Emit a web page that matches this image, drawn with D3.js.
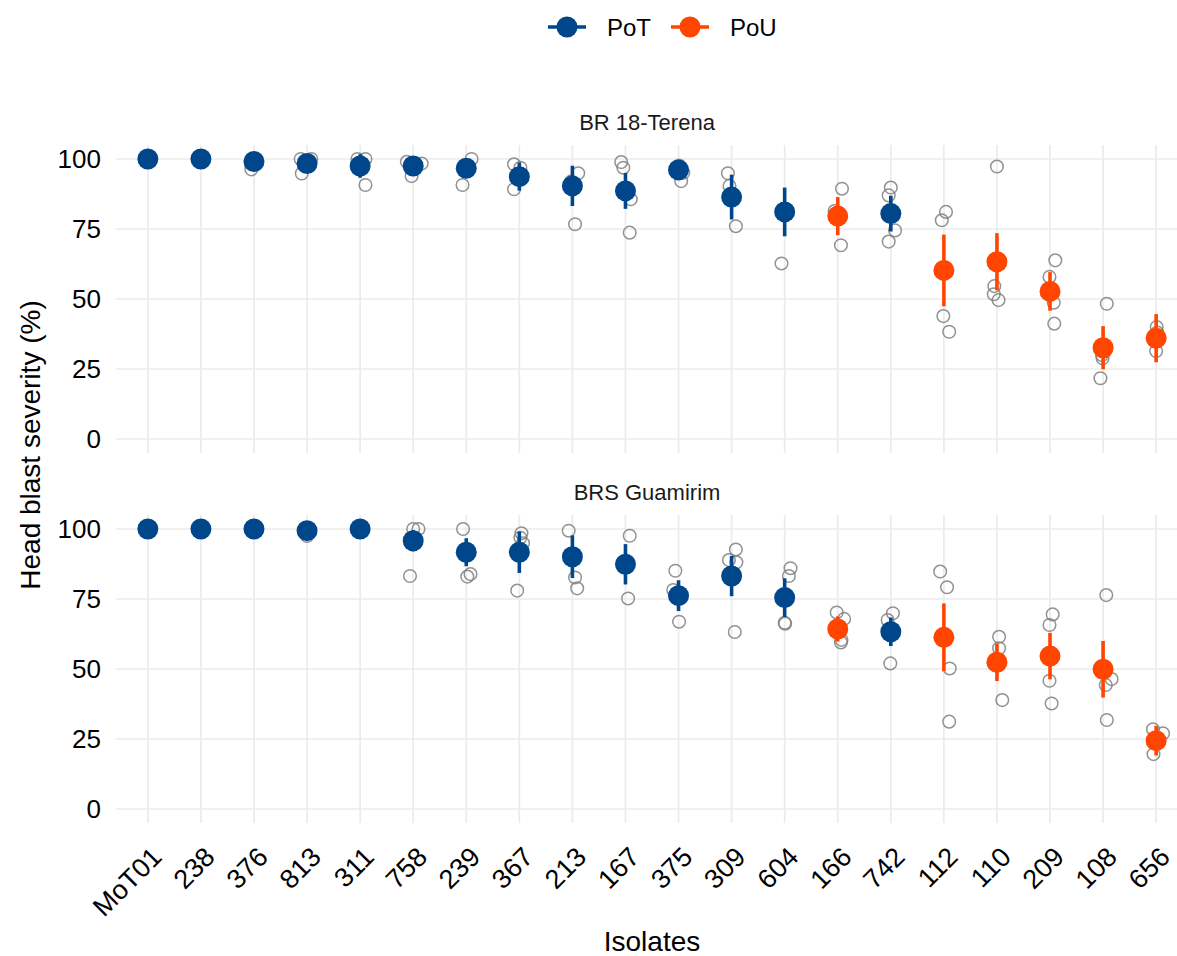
<!DOCTYPE html>
<html>
<head>
<meta charset="utf-8">
<script src="https://cdn.jsdelivr.net/npm/d3@7"></script>
<style>
  html, body { margin: 0; padding: 0; background: #fff; }
  svg { display: block; font-family: "Liberation Sans", Arial, Helvetica, sans-serif; }
</style>
</head>
<body>
<svg id="chart" width="1177" height="956"></svg>
<script>
// Isolates on the x axis, in plotted order
const isolates = ["MoT01","238","376","813","311","758","239","367","213","167",
                  "375","309","604","166","742","112","110","209","108","656"];
// Pathotype lineage of each isolate
const lineage = ["PoT","PoT","PoT","PoT","PoT","PoT","PoT","PoT","PoT","PoT",
                 "PoT","PoT","PoT","PoU","PoT","PoU","PoU","PoU","PoU","PoU"];

const cultivars = ["BR 18-Terena", "BRS Guamirim"];

// Mean head blast severity (%) and standard error, BR 18-Terena
const terenaMean = [100,100,99.1,98.4,97.5,97.5,96.7,93.7,90.4,88.6,
                    96.1,86.4,81.1,79.6,80.5,60.2,63.3,52.7,32.6,36.0];
const terenaSE   = [0,0,0.6,1.2,4.2,1.5,1.5,5.0,7.2,6.4,
                    1.5,8.0,8.7,6.8,6.4,12.8,10.2,6.9,7.7,8.6];
// Mean head blast severity (%) and standard error, BRS Guamirim
const guamirimMean = [100,100,100,99.4,100,95.8,91.7,91.7,90.1,87.4,
                      76.2,83.2,75.5,64.3,63.3,61.3,52.4,54.6,49.9,24.4];
const guamirimSE   = [0,0,0,0.5,0,3.8,5.0,7.4,7.6,7.2,
                      5.5,7.2,6.9,4.5,5.1,12.1,6.7,8.3,10.1,5.3];

// Replicate severities per isolate: [severity, jitter (fraction of a category step)]
const terenaReps = [
  [[100,0],[100,0.05],[100,-0.05]],
  [[100,0],[100,0.05],[100,-0.05]],
  [[96.3,-0.05],[100,0.03],[100,-0.02]],
  [[94.8,-0.1],[100,-0.12],[100,0.08]],
  [[90.7,0.1],[100,-0.05],[100,0.1]],
  [[99.0,-0.12],[98.4,0.16],[93.9,-0.03]],
  [[100,0.1],[90.7,-0.07],[97,0]],
  [[98.1,-0.1],[96.9,0.02],[89.2,-0.1]],
  [[94.9,0.11],[76.7,0.05],[92,-0.02]],
  [[98.9,-0.08],[96.9,-0.04],[85.6,0.1],[73.7,0.08]],
  [[97.7,0.01],[92.1,0.05],[95.1,0.09]],
  [[94.9,-0.07],[90.4,-0.04],[76.0,0.08]],
  [[62.7,-0.06],[82,0.02],[80.5,-0.03]],
  [[89.4,0.08],[69.2,0.06],[81.4,-0.06]],
  [[89.8,0],[87.0,-0.04],[74.5,0.08],[70.5,-0.04]],
  [[81.1,0.04],[78.1,-0.04],[43.9,-0.01],[38.3,0.1]],
  [[97.3,0],[54.6,-0.05],[51.7,-0.06],[49.6,0.03]],
  [[63.8,0.1],[57.9,-0.01],[48.7,0.07],[41.2,0.08]],
  [[48.3,0.07],[30.0,-0.02],[28.8,-0.01],[21.7,-0.05]],
  [[40.0,0.01],[38.0,0.02],[31.4,0]]
];
const guamirimReps = [
  [[100,0],[100,0.05]],
  [[100,0],[100,0.03]],
  [[100,0.05],[100,0]],
  [[97.5,0],[100,-0.04]],
  [[100,0],[100,0.02]],
  [[100,0],[100,0.1],[83.2,-0.06]],
  [[100,-0.06],[83.9,0.08],[83.0,0.02]],
  [[98.5,0.04],[96.9,0.02],[94.9,0.07],[78.0,-0.04]],
  [[99.4,-0.07],[82.7,0.05],[78.8,0.09]],
  [[97.6,0.08],[75.2,0.05]],
  [[85.1,-0.06],[78.2,-0.1],[66.9,0.01]],
  [[92.7,0.08],[88.9,-0.05],[88.1,0.09],[63.2,0.06]],
  [[86.0,0.11],[83.2,0.08],[66.5,0],[66.2,0.01]],
  [[70.2,-0.02],[67.9,0.12],[60.4,0.07],[59.5,0.06]],
  [[69.9,0.04],[67.5,-0.06],[52.0,-0.01]],
  [[84.8,-0.07],[79.2,0.06],[50.2,0.11],[31.2,0.1]],
  [[61.5,0.04],[57.4,0.04],[52.0,-0.06],[38.9,0.1]],
  [[69.5,0.05],[65.7,-0.01],[45.8,-0.01],[37.7,0.03]],
  [[76.4,0.06],[46.4,0.16],[44.3,0.05],[31.8,0.07]],
  [[28.5,-0.06],[27.0,0.13],[19.6,-0.05]]
];

const yTicks = [0, 25, 50, 75, 100];
const lineages = ["PoT", "PoU"];

// ---- layout ----
const svg = d3.select("#chart");
const panelLeft = 116, panelRight = 1188;
const panels = [
  { name: cultivars[0], top: 145, bottom: 453, mean: terenaMean, se: terenaSE, reps: terenaReps },
  { name: cultivars[1], top: 515, bottom: 823, mean: guamirimMean, se: guamirimSE, reps: guamirimReps }
];

const color = d3.scaleOrdinal().domain(lineages).range(["#00468B", "#FF4500"]);
const x = d3.scalePoint().domain(isolates).range([panelLeft, panelRight]).padding(0.6);
const step = x.step();

const gridColor = "#EBEBEB";

panels.forEach(p => {
  const y = d3.scaleLinear().domain([-5, 105]).range([p.bottom, p.top]);
  const g = svg.append("g");

  // grid lines
  g.append("g").selectAll("line").data(yTicks).join("line")
    .attr("x1", panelLeft).attr("x2", panelRight)
    .attr("y1", d => y(d)).attr("y2", d => y(d))
    .attr("stroke", gridColor).attr("stroke-width", 1.7);
  g.append("g").selectAll("line").data(isolates).join("line")
    .attr("x1", d => x(d)).attr("x2", d => x(d))
    .attr("y1", p.top).attr("y2", p.bottom)
    .attr("stroke", gridColor).attr("stroke-width", 1.7);

  // y axis tick labels
  const yAxis = d3.axisLeft(y).tickValues(yTicks).tickSize(0).tickPadding(0);
  const ya = g.append("g").attr("transform", `translate(101,0)`).call(yAxis);
  ya.select(".domain").remove();
  ya.selectAll("text").attr("font-size", 26).attr("fill", "#000")
    .attr("font-family", "Liberation Sans, Arial, sans-serif");

  // strip label
  g.append("text")
    .attr("x", (panelLeft + panelRight) / 2 - 5)
    .attr("y", p.top - 15)
    .attr("text-anchor", "middle")
    .attr("font-size", 22)
    .attr("fill", "#1A1A1A")
    .text(p.name);

  // replicate points
  const repData = [];
  p.reps.forEach((arr, i) => arr.forEach(r => repData.push({ iso: isolates[i], v: r[0], j: r[1] })));
  g.append("g").selectAll("circle").data(repData).join("circle")
    .attr("cx", d => x(d.iso) + d.j * step)
    .attr("cy", d => y(d.v))
    .attr("r", 6.3)
    .attr("fill", "none")
    .attr("stroke", "#7F7F7F")
    .attr("stroke-opacity", 0.85)
    .attr("stroke-width", 1.5);

  // error bars
  g.append("g").selectAll("line").data(isolates).join("line")
    .attr("x1", d => x(d)).attr("x2", d => x(d))
    .attr("y1", (d, i) => y(p.mean[i] - p.se[i]))
    .attr("y2", (d, i) => y(p.mean[i] + p.se[i]))
    .attr("stroke", (d, i) => color(lineage[i]))
    .attr("stroke-width", 3.6);

  // means
  g.append("g").selectAll("circle").data(isolates).join("circle")
    .attr("cx", d => x(d))
    .attr("cy", (d, i) => y(p.mean[i]))
    .attr("r", 10.5)
    .attr("fill", (d, i) => color(lineage[i]));
});

// x axis tick labels (bottom panel only)
const xLab = svg.append("g");
xLab.selectAll("text").data(isolates).join("text")
  .attr("transform", d => `translate(${x(d) + 2},${panels[1].bottom + 22}) rotate(-45)`)
  .attr("text-anchor", "end")
  .attr("dominant-baseline", "hanging")
  .attr("font-size", 27)
  .attr("fill", "#000")
  .text(d => d);

// axis titles
svg.append("text")
  .attr("x", (panelLeft + panelRight) / 2)
  .attr("y", 951)
  .attr("text-anchor", "middle")
  .attr("font-size", 28)
  .attr("fill", "#000")
  .text("Isolates");

svg.append("text")
  .attr("transform", `translate(40,445) rotate(-90)`)
  .attr("text-anchor", "middle")
  .attr("font-size", 28)
  .attr("fill", "#000")
  .text("Head blast severity (%)");

// legend
const legend = svg.append("g");
const keyX = [567, 690];
lineages.forEach((l, i) => {
  const cx = keyX[i];
  legend.append("line")
    .attr("x1", cx - 19).attr("x2", cx + 19)
    .attr("y1", 27).attr("y2", 27)
    .attr("stroke", color(l)).attr("stroke-width", 3.6);
  legend.append("circle")
    .attr("cx", cx).attr("cy", 27).attr("r", 10.5)
    .attr("fill", color(l));
  legend.append("text")
    .attr("x", cx + 40).attr("y", 36)
    .attr("font-size", 24)
    .attr("fill", "#000")
    .text(l);
});
</script>
</body>
</html>
